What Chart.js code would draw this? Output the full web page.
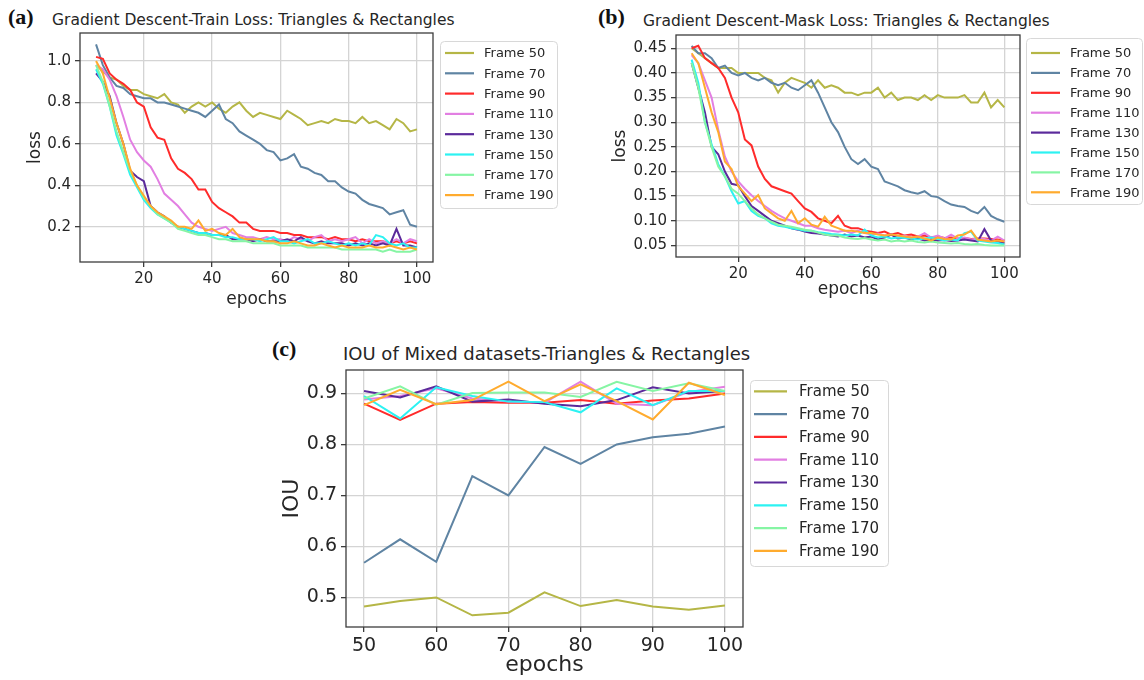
<!DOCTYPE html>
<html>
<head>
<meta charset="utf-8">
<script src="https://cdn.jsdelivr.net/npm/chart.js@4"></script>
<style>
body { margin: 0; background: #fff; width: 1144px; height: 680px; position: relative; overflow: hidden; font-family: "DejaVu Sans", sans-serif; color: #222; }
canvas { position: absolute; }
.lab { position: absolute; font-family: "Liberation Serif", serif; font-weight: bold; font-size: 22px; color: #111; }
.ttl { position: absolute; white-space: nowrap; color: #262626; }
</style>
</head>
<body>
<div class="lab" style="left:8px;top:4px">(a)</div>
<div class="ttl" style="left:52px;top:11px;font-size:15.5px">Gradient Descent-Train Loss: Triangles &amp; Rectangles</div>
<div class="lab" style="left:598px;top:4px">(b)</div>
<div class="ttl" style="left:643px;top:12px;font-size:15.5px">Gradient Descent-Mask Loss: Triangles &amp; Rectangles</div>
<div class="lab" style="left:272px;top:336px">(c)</div>
<div class="ttl" style="left:343px;top:343px;font-size:18px">IOU of Mixed datasets-Triangles &amp; Rectangles</div>

<canvas id="ca" width="570" height="310" style="left:0;top:0"></canvas>
<canvas id="cb" width="564" height="300" style="left:580px;top:0"></canvas>
<canvas id="cc" width="630" height="350" style="left:270px;top:330px"></canvas>

<script>
// series names and colours
var frames = ['Frame 50', 'Frame 70', 'Frame 90', 'Frame 110', 'Frame 130', 'Frame 150', 'Frame 170', 'Frame 190'];
var colors = ['#b5b646', '#5f84a3', '#ff2b2b', '#e27fe2', '#5b2a9b', '#2cf2f2', '#86f5a4', '#ffab2e'];

// epochs for the two loss plots
var lossEpochs = [6,8,10,12,14,16,18,20,22,24,26,28,30,32,34,36,38,40,42,44,46,48,50,52,54,56,58,60,62,64,66,68,70,72,74,76,78,80,82,84,86,88,90,92,94,96,98,100];
var lossXTicks = [20, 40, 60, 80, 100];

// (a) train loss
var trainF50  = [0.98,0.95,0.92,0.91,0.88,0.86,0.86,0.84,0.83,0.82,0.84,0.80,0.79,0.75,0.78,0.80,0.78,0.80,0.77,0.75,0.78,0.80,0.76,0.73,0.75,0.74,0.73,0.72,0.76,0.74,0.72,0.69,0.70,0.71,0.70,0.72,0.71,0.71,0.70,0.73,0.70,0.71,0.69,0.67,0.72,0.70,0.66,0.67];
var trainF70  = [1.08,0.98,0.92,0.88,0.87,0.84,0.83,0.82,0.82,0.80,0.80,0.79,0.78,0.77,0.76,0.75,0.73,0.76,0.79,0.72,0.70,0.66,0.64,0.62,0.60,0.57,0.56,0.52,0.53,0.55,0.49,0.48,0.46,0.45,0.42,0.42,0.39,0.37,0.36,0.33,0.31,0.30,0.29,0.26,0.27,0.28,0.21,0.20];
var trainF90  = [1.02,1.01,0.94,0.91,0.89,0.86,0.80,0.78,0.68,0.63,0.62,0.53,0.48,0.46,0.43,0.38,0.38,0.32,0.29,0.27,0.25,0.22,0.22,0.19,0.18,0.18,0.18,0.17,0.17,0.16,0.16,0.15,0.15,0.15,0.14,0.15,0.14,0.14,0.13,0.14,0.13,0.13,0.13,0.12,0.13,0.12,0.13,0.12];
var trainF110 = [0.98,0.96,0.91,0.83,0.73,0.62,0.56,0.52,0.49,0.43,0.36,0.33,0.30,0.26,0.22,0.20,0.19,0.18,0.19,0.20,0.17,0.16,0.15,0.15,0.14,0.15,0.14,0.14,0.13,0.15,0.14,0.13,0.15,0.16,0.13,0.14,0.13,0.14,0.15,0.12,0.14,0.12,0.13,0.12,0.14,0.12,0.14,0.13];
var trainF130 = [0.94,0.90,0.83,0.70,0.60,0.47,0.44,0.42,0.30,0.27,0.25,0.22,0.20,0.19,0.18,0.17,0.17,0.16,0.16,0.16,0.14,0.14,0.14,0.13,0.14,0.13,0.13,0.13,0.14,0.13,0.15,0.13,0.12,0.13,0.12,0.12,0.12,0.11,0.12,0.11,0.12,0.11,0.12,0.11,0.19,0.11,0.11,0.10];
var trainF150 = [0.96,0.89,0.78,0.64,0.55,0.45,0.39,0.33,0.29,0.26,0.24,0.22,0.20,0.19,0.18,0.17,0.17,0.16,0.16,0.15,0.15,0.14,0.14,0.14,0.13,0.14,0.15,0.13,0.13,0.12,0.13,0.14,0.12,0.12,0.13,0.12,0.11,0.12,0.11,0.12,0.11,0.16,0.15,0.12,0.11,0.12,0.10,0.10];
var trainF170 = [0.98,0.90,0.78,0.66,0.56,0.47,0.40,0.34,0.30,0.26,0.24,0.22,0.19,0.18,0.17,0.16,0.16,0.15,0.14,0.14,0.13,0.13,0.13,0.12,0.12,0.12,0.12,0.11,0.11,0.11,0.11,0.10,0.10,0.10,0.10,0.10,0.09,0.09,0.09,0.09,0.09,0.09,0.08,0.09,0.08,0.08,0.08,0.09];
var trainF190 = [1.00,0.94,0.82,0.70,0.60,0.48,0.40,0.35,0.30,0.27,0.25,0.23,0.20,0.20,0.19,0.23,0.18,0.19,0.17,0.16,0.19,0.15,0.14,0.14,0.14,0.13,0.13,0.12,0.12,0.13,0.12,0.11,0.11,0.12,0.11,0.10,0.11,0.10,0.10,0.10,0.11,0.10,0.10,0.11,0.10,0.09,0.10,0.09];
var trainYTicks = [0.2, 0.4, 0.6, 0.8, 1.0];

// (b) mask loss
var maskF50  = [0.45,0.44,0.43,0.42,0.41,0.41,0.41,0.40,0.40,0.40,0.40,0.39,0.385,0.36,0.38,0.39,0.385,0.38,0.37,0.385,0.37,0.375,0.37,0.36,0.36,0.355,0.36,0.36,0.37,0.35,0.36,0.345,0.35,0.35,0.345,0.355,0.345,0.355,0.35,0.35,0.35,0.355,0.34,0.34,0.36,0.33,0.345,0.33];
var maskF70  = [0.455,0.44,0.44,0.43,0.41,0.415,0.40,0.395,0.40,0.39,0.385,0.39,0.38,0.375,0.38,0.37,0.365,0.375,0.385,0.36,0.33,0.30,0.28,0.25,0.225,0.215,0.225,0.21,0.205,0.18,0.175,0.17,0.162,0.158,0.155,0.16,0.15,0.148,0.14,0.133,0.13,0.128,0.12,0.115,0.128,0.11,0.103,0.098];
var maskF90  = [0.45,0.455,0.43,0.42,0.41,0.39,0.35,0.32,0.265,0.253,0.21,0.185,0.17,0.165,0.16,0.155,0.14,0.125,0.118,0.105,0.10,0.095,0.11,0.09,0.085,0.085,0.08,0.078,0.075,0.078,0.072,0.075,0.07,0.072,0.068,0.07,0.066,0.068,0.065,0.066,0.064,0.065,0.063,0.064,0.064,0.063,0.062,0.06];
var maskF110 = [0.436,0.42,0.385,0.35,0.285,0.23,0.20,0.18,0.165,0.152,0.14,0.13,0.12,0.112,0.105,0.10,0.095,0.09,0.09,0.085,0.082,0.08,0.078,0.08,0.075,0.08,0.075,0.072,0.074,0.07,0.072,0.068,0.07,0.066,0.068,0.075,0.066,0.07,0.064,0.072,0.064,0.066,0.062,0.064,0.063,0.06,0.068,0.06];
var maskF130 = [0.42,0.37,0.32,0.25,0.235,0.20,0.175,0.172,0.15,0.13,0.12,0.11,0.10,0.095,0.09,0.085,0.082,0.078,0.075,0.074,0.072,0.07,0.068,0.072,0.068,0.07,0.066,0.068,0.062,0.066,0.072,0.064,0.066,0.062,0.064,0.06,0.062,0.06,0.061,0.059,0.06,0.062,0.06,0.058,0.083,0.06,0.058,0.055];
var maskF150 = [0.427,0.38,0.30,0.255,0.215,0.19,0.16,0.135,0.14,0.12,0.11,0.105,0.095,0.09,0.088,0.085,0.083,0.08,0.08,0.077,0.075,0.073,0.072,0.07,0.072,0.07,0.082,0.07,0.066,0.068,0.064,0.066,0.065,0.064,0.062,0.064,0.066,0.063,0.06,0.062,0.06,0.075,0.078,0.06,0.058,0.056,0.055,0.052];
var maskF170 = [0.42,0.37,0.30,0.25,0.21,0.19,0.165,0.155,0.14,0.125,0.113,0.105,0.098,0.092,0.09,0.088,0.085,0.082,0.08,0.076,0.072,0.07,0.07,0.066,0.064,0.063,0.065,0.062,0.06,0.062,0.058,0.06,0.058,0.06,0.057,0.056,0.058,0.056,0.055,0.054,0.055,0.053,0.052,0.053,0.051,0.05,0.05,0.05];
var maskF190 = [0.44,0.42,0.37,0.32,0.28,0.22,0.205,0.17,0.155,0.14,0.152,0.125,0.115,0.105,0.10,0.12,0.095,0.105,0.092,0.088,0.108,0.09,0.085,0.08,0.08,0.078,0.075,0.075,0.072,0.07,0.072,0.07,0.068,0.066,0.068,0.064,0.06,0.066,0.063,0.062,0.07,0.072,0.08,0.062,0.06,0.058,0.06,0.058];
var maskYTicks = [0.05, 0.10, 0.15, 0.20, 0.25, 0.30, 0.35, 0.40, 0.45];

// (c) IOU
var iouEpochs = [50, 55, 60, 65, 70, 75, 80, 85, 90, 95, 100];
var iouXTicks = [50, 60, 70, 80, 90, 100];
var iouF50  = [0.482,0.493,0.50,0.465,0.47,0.51,0.483,0.495,0.482,0.476,0.484];
var iouF70  = [0.568,0.614,0.57,0.738,0.70,0.795,0.762,0.80,0.814,0.821,0.835];
var iouF90  = [0.88,0.848,0.88,0.883,0.882,0.882,0.887,0.88,0.886,0.89,0.90];
var iouF110 = [0.888,0.895,0.91,0.89,0.884,0.882,0.923,0.88,0.877,0.903,0.913];
var iouF130 = [0.905,0.892,0.914,0.884,0.888,0.88,0.875,0.887,0.912,0.90,0.905];
var iouF150 = [0.895,0.851,0.912,0.895,0.884,0.883,0.863,0.91,0.877,0.905,0.905];
var iouF170 = [0.89,0.914,0.878,0.901,0.902,0.902,0.893,0.923,0.905,0.92,0.905];
var iouF190 = [0.877,0.907,0.879,0.887,0.923,0.885,0.918,0.885,0.849,0.921,0.897];
var iouYTicks = [0.5, 0.6, 0.7, 0.8, 0.9];

Chart.defaults.font.family = '"DejaVu Sans", sans-serif';

// frame around the axes + matplotlib style legend box
var boxLegend = {
    id: 'boxLegend',
    afterDraw: function(chart, args, o) {
        var ctx = chart.ctx;
        var a = chart.chartArea;
        ctx.save();
        ctx.strokeStyle = '#3c3c3c';
        ctx.lineWidth = 1.3;
        ctx.strokeRect(a.left, a.top, a.right - a.left, a.bottom - a.top);

        ctx.fillStyle = '#fff';
        ctx.strokeStyle = '#d8d8d8';
        ctx.lineWidth = 1;
        ctx.beginPath();
        if (ctx.roundRect) ctx.roundRect(o.x + 0.5, o.y + 0.5, o.w, o.h, 4);
        else ctx.rect(o.x + 0.5, o.y + 0.5, o.w, o.h);
        ctx.fill();
        ctx.stroke();

        ctx.font = o.size + 'px "DejaVu Sans"';
        ctx.textBaseline = 'middle';
        chart.data.datasets.forEach(function(ds, i) {
            var y = o.first + i * o.step;
            ctx.strokeStyle = ds.borderColor;
            ctx.lineWidth = 2.2;
            ctx.beginPath();
            ctx.moveTo(o.lx, y);
            ctx.lineTo(o.lx + o.lw, y);
            ctx.stroke();
            ctx.fillStyle = '#262626';
            ctx.fillText(ds.label, o.tx, y + 1);
        });
        ctx.restore();
    }
};

function build(id, xs, series, p) {
    var datasets = series.map(function(ys, i) {
        return {
            label: frames[i],
            data: xs.map(function(x, j) { return {x: x, y: ys[j]}; }),
            borderColor: colors[i],
            borderWidth: 2,
            pointRadius: 0,
            tension: 0,
            order: series.length - i
        };
    });
    return new Chart(document.getElementById(id), {
        type: 'line',
        data: {datasets: datasets},
        options: {
            responsive: false,
            animation: false,
            layout: {padding: p.pad},
            plugins: {
                legend: {display: false},
                tooltip: {enabled: false},
                boxLegend: p.legend
            },
            scales: {
                x: {
                    type: 'linear',
                    min: p.xMin,
                    max: p.xMax,
                    afterBuildTicks: function(s) { s.ticks = p.xTicks.map(function(v) { return {value: v}; }); },
                    afterFit: function(s) { s.height = p.xH; },
                    border: {display: false},
                    grid: {color: '#d4d4d4', lineWidth: 1.3, tickLength: 5, tickColor: '#3c3c3c'},
                    ticks: {font: {size: p.tick}, color: '#262626', padding: 3, maxRotation: 0, autoSkip: false},
                    title: {display: true, text: 'epochs', font: {size: p.axis}, color: '#262626', padding: 0}
                },
                y: {
                    min: p.yMin,
                    max: p.yMax,
                    afterBuildTicks: function(s) { s.ticks = p.yTicks.map(function(v) { return {value: v}; }); },
                    afterFit: function(s) { s.width = p.yW; },
                    border: {display: false},
                    grid: {color: '#d4d4d4', lineWidth: 1.3, tickLength: 5, tickColor: '#3c3c3c'},
                    ticks: {
                        font: {size: p.tick}, color: '#262626', padding: 4, autoSkip: false,
                        callback: function(v) { return v.toFixed(p.dec); }
                    },
                    title: {display: true, text: p.yTitle, font: {size: p.axis}, color: '#262626', padding: 0}
                }
            }
        },
        plugins: [boxLegend]
    });
}

build('ca', lossEpochs, [trainF50, trainF70, trainF90, trainF110, trainF130, trainF150, trainF170, trainF190], {
    pad: {left: 25, top: 33, right: 137, bottom: 0},
    xMin: 1.3, xMax: 104.7, xTicks: lossXTicks, xH: 48,
    yMin: 0.03, yMax: 1.135, yTicks: trainYTicks, yW: 55, dec: 1,
    yTitle: 'loss', tick: 15, axis: 17,
    legend: {x: 440, y: 41, w: 117, h: 167, first: 53, step: 20.3, lx: 445, lw: 29, tx: 484, size: 13}
});

build('cb', lossEpochs, [maskF50, maskF70, maskF90, maskF110, maskF130, maskF150, maskF170, maskF190], {
    pad: {left: 30, top: 35, right: 124, bottom: 0},
    xMin: 1.3, xMax: 104.7, xTicks: lossXTicks, xH: 43,
    yMin: 0.0265, yMax: 0.477, yTicks: maskYTicks, yW: 66, dec: 2,
    yTitle: 'loss', tick: 15, axis: 17,
    legend: {x: 446, y: 38, w: 116, h: 166, first: 53, step: 19.9, lx: 451, lw: 29, tx: 490, size: 13}
});

build('cc', iouEpochs, [iouF50, iouF70, iouF90, iouF110, iouF130, iouF150, iouF170, iouF190], {
    pad: {left: 9, top: 40, right: 157, bottom: 2},
    xMin: 47.5, xMax: 102.5, xTicks: iouXTicks, xH: 51,
    yMin: 0.442, yMax: 0.946, yTicks: iouYTicks, yW: 67, dec: 1,
    yTitle: 'IOU', tick: 19, axis: 22,
    legend: {x: 480, y: 50, w: 138, h: 186, first: 61.3, step: 22.8, lx: 484, lw: 33, tx: 529, size: 15}
});
</script>
</body>
</html>
